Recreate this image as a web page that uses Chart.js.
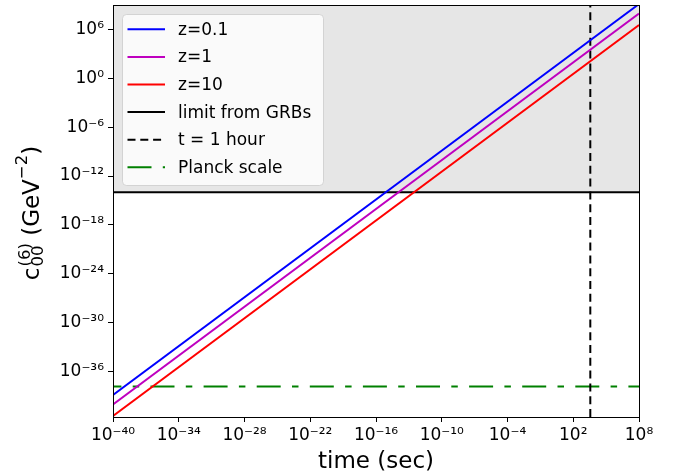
<!DOCTYPE html>
<html><head><meta charset="utf-8">
<script src="https://cdn.jsdelivr.net/npm/chart.js@4.4.0/dist/chart.umd.min.js"></script>
<style>html,body{margin:0;padding:0;background:#fff;overflow:hidden;}</style>
</head><body>
<canvas id="c" width="673" height="476"></canvas>
<script>
// ---- data ----
const timeEnds = [1e-40, 1e8];              // x range of the curves (sec)
const seriesLabels = ['z=0.1', 'z=1', 'z=10'];
const cZ01 = [1.3e-39, 1.3e9];              // c00(6) for z=0.1 at timeEnds
const cZ1  = [9e-41, 9e7];                  // z=1
const cZ10 = [3.5e-42, 3.5e6];              // z=10
const grbLimit = 1e-14;                      // limit from GRBs
const oneHour = 3600;                        // t = 1 hour
const planckScale = 1.4e-38;                 // Planck scale
const xTickValues = [1e-40,1e-34,1e-28,1e-22,1e-16,1e-10,1e-4,1e2,1e8];
const yTickValues = [1e-36,1e-30,1e-24,1e-18,1e-12,1e-6,1e0,1e6];
const xRange = [1e-40, 1e8];
const yRange = [2.6e-42, 1e9];

const SUP = {'0':'⁰','1':'¹','2':'²','3':'³','4':'⁴','5':'⁵','6':'⁶','7':'⁷','8':'⁸','9':'⁹','-':'⁻'};
function pow10Label(v){
  const e = Math.round(Math.log10(v));
  return '10' + String(e).split('').map(ch => SUP[ch]).join('');
}
const pts = (xs, ys) => xs.map((x, i) => ({x, y: ys[i]}));

const datasets = [
  {label: seriesLabels[0], data: pts(timeEnds, cZ01), borderColor: '#0000ff', borderWidth: 2},
  {label: seriesLabels[1], data: pts(timeEnds, cZ1),  borderColor: '#bf00bf', borderWidth: 2},
  {label: seriesLabels[2], data: pts(timeEnds, cZ10), borderColor: '#ff0000', borderWidth: 2},
  {label: 'limit from GRBs', data: pts(timeEnds, [grbLimit, grbLimit]), borderColor: '#000000', borderWidth: 2,
   fill: 'end', backgroundColor: 'rgba(128,128,128,0.2)'},
  {label: 't = 1 hour', data: pts([oneHour, oneHour], yRange), borderColor: '#000000', borderWidth: 2, borderDash: [8, 4.8]},
  {label: 'Planck scale', data: pts(timeEnds, [planckScale, planckScale]), borderColor: '#008000', borderWidth: 2,
   borderDash: [24, 11.3, 6.5, 11.3], borderDashOffset: 15.6}
].map(d => Object.assign({pointRadius: 0, tension: 0, fill: d.fill || false}, d));

const FONT = 'DejaVu Sans';

const framePlugin = {
  id: 'frame',
  afterDraw(chart) {
    const {ctx, chartArea: a} = chart;
    ctx.save();
    ctx.strokeStyle = '#000';
    ctx.lineWidth = 1;
    ctx.strokeRect(Math.round(a.left) + 0.5, Math.round(a.top) + 0.5, Math.round(a.right - a.left), Math.round(a.bottom - a.top));
    ctx.restore();
  }
};

const legendPlugin = {
  id: 'mplLegend',
  afterDraw(chart) {
    const {ctx, chartArea: a} = chart;
    const x0 = a.left + 9.5, y0 = a.top + 9.5, w = 201, h = 171, r = 4;
    ctx.save();
    ctx.beginPath();
    ctx.moveTo(x0 + r, y0);
    ctx.arcTo(x0 + w, y0, x0 + w, y0 + h, r);
    ctx.arcTo(x0 + w, y0 + h, x0, y0 + h, r);
    ctx.arcTo(x0, y0 + h, x0, y0, r);
    ctx.arcTo(x0, y0, x0 + w, y0, r);
    ctx.closePath();
    ctx.fillStyle = 'rgba(255,255,255,0.8)';
    ctx.fill();
    ctx.strokeStyle = 'rgba(204,204,204,0.8)';
    ctx.lineWidth = 1;
    ctx.stroke();
    ctx.font = '17px ' + FONT;
    ctx.textBaseline = 'middle';
    ctx.fillStyle = '#000';
    chart.data.datasets.forEach((ds, i) => {
      const yy = a.top + 24.3 + i * 27.6;
      ctx.beginPath();
      ctx.setLineDash(ds.borderDash || []);
      ctx.lineDashOffset = 0;
      ctx.strokeStyle = ds.borderColor;
      ctx.lineWidth = ds.borderWidth;
      ctx.moveTo(a.left + 14.5, yy);
      ctx.lineTo(a.left + 52, yy);
      ctx.stroke();
      ctx.setLineDash([]);
      ctx.fillText(ds.label, a.left + 65, yy + 1);
    });
    ctx.restore();
  }
};

const yTitlePlugin = {
  id: 'yTitle',
  afterDraw(chart) {
    const {ctx, chartArea: a} = chart;
    const big = '23px ' + FONT, small = '16.5px ' + FONT;
    ctx.save();
    ctx.fillStyle = '#000';
    ctx.textBaseline = 'alphabetic';
    const parts = [
      {t: 'c', f: big, dy: 0},
      {stack: [{t: '(6)', f: small, dy: -9}, {t: '00', f: small, dy: 3.5}]},
      {t: ' (GeV', f: big, dy: 0},
      {t: '−2', f: small, dy: -12},
      {t: ')', f: big, dy: 0}
    ];
    const widthOf = p => {
      if (p.stack) return Math.max(...p.stack.map(widthOf));
      ctx.font = p.f; return ctx.measureText(p.t).width;
    };
    const total = parts.reduce((s, p) => s + widthOf(p) + (p.stack ? 1 : 0), 0);
    ctx.translate(39, (a.top + a.bottom) / 2 + 2);
    ctx.rotate(-Math.PI / 2);
    let x = -total / 2;
    parts.forEach(p => {
      if (p.stack) {
        p.stack.forEach(s => { ctx.font = s.f; ctx.fillText(s.t, x + 1, s.dy); });
        x += widthOf(p) + 1;
      } else {
        ctx.font = p.f; ctx.fillText(p.t, x, p.dy); x += widthOf(p);
      }
    });
    ctx.restore();
  }
};

new Chart(document.getElementById('c'), {
  type: 'line',
  data: {datasets},
  options: {
    responsive: false,
    devicePixelRatio: 1,
    animation: false,
    layout: {padding: {left: 0, right: 34, top: 5, bottom: 0}},
    plugins: {
      legend: {display: false},
      tooltip: {enabled: false},
      filler: {drawTime: 'beforeDatasetsDraw'}
    },
    scales: {
      x: {
        type: 'logarithmic', position: 'bottom',
        min: xRange[0], max: xRange[1],
        afterBuildTicks: s => { s.ticks = xTickValues.map(v => ({value: v})); },
        afterFit: s => { s.height = 59; s.paddingLeft = 0; s.paddingRight = 0; },
        ticks: {callback: v => pow10Label(v), font: {family: FONT, size: 17}, color: '#000', maxRotation: 0, autoSkip: false, padding: 3},
        grid: {drawOnChartArea: false, color: '#000', tickLength: 5, tickWidth: 1},
        border: {color: '#000', width: 1},
        title: {display: true, text: 'time (sec)', font: {family: FONT, size: 23}, color: '#000', padding: {top: 0, bottom: 0}}
      },
      y: {
        type: 'logarithmic', position: 'left',
        min: yRange[0], max: yRange[1],
        afterBuildTicks: s => { s.ticks = yTickValues.map(v => ({value: v})); },
        afterFit: s => { s.width = 113; s.paddingTop = 0; s.paddingBottom = 0; },
        ticks: {callback: v => pow10Label(v), font: {family: FONT, size: 17}, color: '#000', autoSkip: false, padding: 4},
        grid: {drawOnChartArea: false, color: '#000', tickLength: 5, tickWidth: 1},
        border: {color: '#000', width: 1}
      }
    }
  },
  plugins: [framePlugin, legendPlugin, yTitlePlugin]
});
</script>
</body></html>
